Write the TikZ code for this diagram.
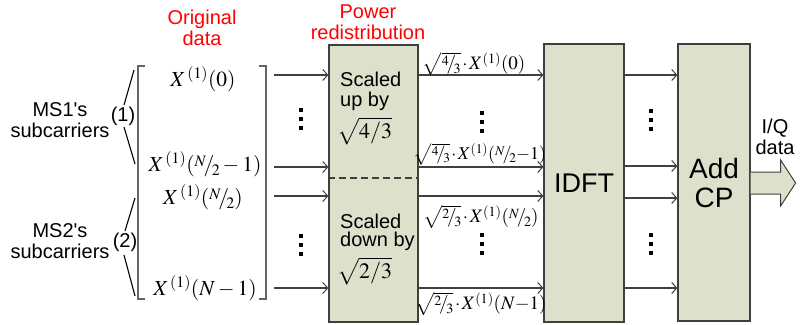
\documentclass[tikz,border=0pt]{standalone}
\usepackage{mathptmx}
\usepackage[no-math]{fontspec}
\setmainfont{Liberation Sans}
\usetikzlibrary{arrows.meta,calc}
\definecolor{boxfill}{HTML}{DDE0CB}
\definecolor{edge}{HTML}{3F3F3F}
\newcommand\nfr[2]{\raisebox{0.45ex}{$\scriptstyle #1$}\kern-0.12em/\kern-0.12em\raisebox{-0.35ex}{$\scriptstyle #2$}}
\tikzset{
  blk/.style={draw=edge,line width=1.2pt,fill=boxfill,inner sep=0pt},
  arr/.style={draw=edge,line width=1.2pt,-{Straight Barb[length=5pt,width=11pt,line width=1pt]}},
  lbl/.style={font=\fontsize{20}{21}\selectfont,inner sep=0pt},
  redlbl/.style={lbl,text=red,align=center},
  mth/.style={font=\fontsize{21.5}{22}\selectfont,inner sep=0pt},
  omth/.style={font=\fontsize{19}{20}\selectfont,inner sep=0pt},
  vdot/.style={fill=black,minimum width=4.5pt,minimum height=3.5pt,inner sep=0pt},
  brk/.style={draw=edge!80,line width=1.5pt},
  fan/.style={draw=black,line width=1.1pt},
}
\begin{document}
\begin{tikzpicture}[x=1pt,y=-1pt]
\useasboundingbox (0,0) rectangle (803,324);

% headings
\node[redlbl] (orig) at (202,28) {Original\\data};
\node[redlbl] (pwr) at (368,22) {Power\\redistribution};

% left labels
\node[lbl,align=center] (ms1) at (60,120) {MS1\textquotesingle s\\subcarriers};
\node[lbl,align=center] (ms2) at (60,241) {MS2\textquotesingle s\\subcarriers};
\node[lbl] (g1) at (123,116) {(1)};
\node[lbl] (g2) at (125,242) {(2)};
\coordinate (g1a) at (134,70);  \coordinate (g1b) at (124,105);
\coordinate (g1c) at (124,127); \coordinate (g1d) at (135,164);
\coordinate (g2a) at (135,198); \coordinate (g2b) at (125,231);
\coordinate (g2c) at (124,255); \coordinate (g2d) at (135,296);
\draw[fan] (g1a) -- (g1b);
\draw[fan] (g1c) -- (g1d);
\draw[fan] (g2a) -- (g2b);
\draw[fan] (g2c) -- (g2d);

% bracket matrix
\draw[brk] (145,66) -- (138,66) -- (138,299) -- (145,299);
\draw[brk] (259,66) -- (266,66) -- (266,299) -- (259,299);
\node[mth] (e0) at (203,79) {$X^{\,(1)}(0)$};
\node[mth] (e1) at (205,164) {$X^{\,(1)}(\nfr{N}{2}-1)$};
\node[mth] (e2) at (203,197) {$X^{\,(1)}(\nfr{N}{2})$};
\node[mth] (e3) at (205,288) {$X^{\,(1)}(N-1)$};

% blocks
\node[blk,minimum width=89pt,minimum height=277pt] (pw) at (373.5,183.5) {};
\node[blk,minimum width=80pt,minimum height=278pt,font=\fontsize{27}{29}\selectfont] (idft) at (584,183) {IDFT};
\node[blk,minimum width=72pt,minimum height=277pt,align=center,font=\fontsize{28}{29}\selectfont] (cp) at (714,182.5) {Add\\CP};

% power box contents
\draw[draw=edge,line width=1.2pt,dash pattern=on 7pt off 4pt] (pw.west |- 0,178) -- (pw.east |- 0,178);
\node[lbl,anchor=base west] (up1) at (340,86) {Scaled};
\node[lbl,anchor=base west] (up2) at (340,106) {up by};
\node[mth,anchor=base west,font=\fontsize{22}{23}\selectfont] (up3) at (337,138) {$\sqrt{4/3}$};
\node[lbl,anchor=base west] (dn1) at (340,228) {Scaled};
\node[lbl,anchor=base west] (dn2) at (340,246) {down by};
\node[mth,anchor=base west,font=\fontsize{22}{23}\selectfont] (dn3) at (337,278) {$\sqrt{2/3}$};

% input arrows
\foreach \i/\y in {1/75,2/167,3/196,4/288}{
  \coordinate (s\i) at (274,\y);
  \draw[arr] (s\i) -- (pw.west |- s\i);
  \draw[arr] (pw.east |- s\i) -- (idft.west |- s\i);
}
\foreach \i/\y in {1/75,2/166,3/198,4/288}{
  \coordinate (t\i) at (624,\y);
  \draw[arr] (idft.east |- t\i) -- (cp.west |- t\i);
}

% output labels
\node[omth] (l0) at (474,64) {$\sqrt{\nfr{4}{3}}\mkern-1mu\cdot\mkern-1mu X^{(1)}(0)$};
\node[omth,font=\fontsize{18}{19}\selectfont] (l1) at (480,154) {$\sqrt{\nfr{4}{3}}\mkern-1mu\cdot\mkern-1mu X^{(1)}(\nfr{N}{2}{-}1)$};
\node[omth] (l2) at (481,217) {$\sqrt{\nfr{2}{3}}\mkern-1mu\cdot\mkern-1mu X^{(1)}(\nfr{N}{2})$};
\node[omth] (l3) at (481,304) {$\sqrt{\nfr{2}{3}}\mkern-1mu\cdot\mkern-1mu X^{(1)}(N{-}1)$};

% vertical dots
\foreach \x/\y in {301/110,482/113,651/111,301/236,482/235,651/235}{
  \foreach \k in {0,9,18}{
    \node[vdot] at (\x,\y+\k) {};
  }
}

% output fat arrow
\coordinate (oa) at (cp.east |- 0,183);
\draw[draw=edge,line width=1pt,fill=boxfill]
  ($(oa)+(0,-11)$) -- ++(30,0) -- ++(0,-12) -- ($(oa)+(45,0)$) -- ($(oa)+(30,23)$) -- ++(0,-12) -- ($(oa)+(0,11)$);
\node[lbl,align=center] (iq) at (775,137) {I/Q\\data};
\end{tikzpicture}
\end{document}
